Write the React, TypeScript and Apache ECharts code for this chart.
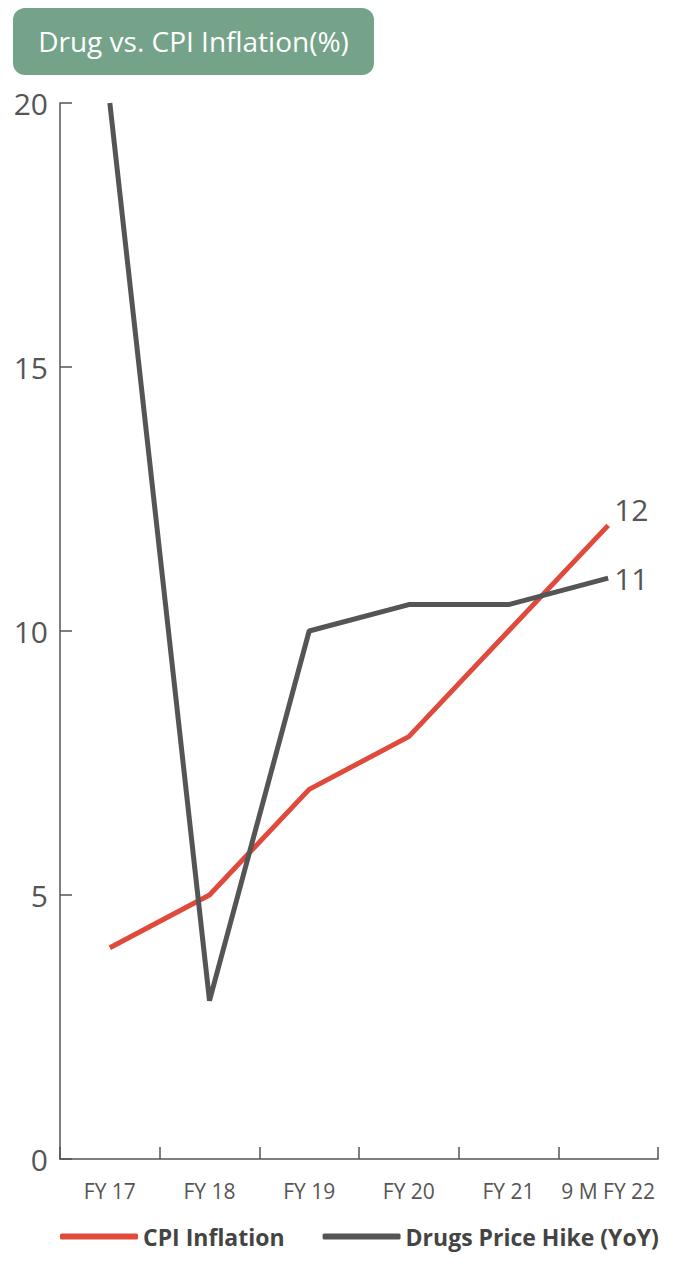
import React, { useEffect, useRef } from "react";
import * as echarts from "echarts";

const categories = ["FY 17", "FY 18", "FY 19", "FY 20", "FY 21", "9 M FY 22"];
const cpiInflation = [4, 5, 7, 8, 10, 12];
const drugsPriceHike = [20, 3, 10, 10.5, 10.5, 11];
const yTicks = { min: 0, max: 20, interval: 5 };

const font = "'Open Sans', sans-serif";

export default function App() {
  const ref = useRef<HTMLDivElement>(null);
  useEffect(() => {
    const chart = echarts.init(ref.current!, undefined, { renderer: "svg" });
    const endLabel = (offset: number[]) => ({
      show: true,
      formatter: (p: any) => String(p.value),
      distance: 6,
      offset,
      fontSize: 30,
      color: "#555",
      fontFamily: font,
    });
    chart.setOption({
      animation: false,
      graphic: [
        {
          type: "group",
          left: 13 - 8,
          top: 8 - 8,
          children: [
            {
              type: "rect",
              shape: { x: 0, y: 0, width: 361, height: 67, r: 12 },
              style: { fill: "#74a38a" },
            },
            {
              type: "text",
              x: 180.5,
              y: 33,
              style: {
                text: "Drug vs. CPI Inflation(%)",
                fill: "#fff",
                fontSize: 28,
                fontFamily: font,
                align: "center",
                verticalAlign: "middle",
              },
            },
          ],
        },
      ],
      legend: {
        bottom: 27,
        left: 55 - 8,
        itemWidth: 78,
        itemHeight: 6,
        itemGap: 38,
        icon: "roundRect",
        textStyle: { fontSize: 23, fontWeight: "bold", color: "#444", fontFamily: font },
        data: ["CPI Inflation", "Drugs Price Hike (YoY)"],
      },
      grid: { left: 60 - 8, right: 697 - 658, top: 103 - 8, bottom: 1280 - 1159 },
      xAxis: {
        type: "category",
        data: categories,
        boundaryGap: true,
        axisLine: { show: true, lineStyle: { color: "#555", width: 1.5 } },
        axisTick: { show: true, inside: true, length: 12, alignWithLabel: false, lineStyle: { color: "#555", width: 1.5 } },
        axisLabel: { fontSize: 21, color: "#555", margin: 21, interval: 0, fontFamily: font },
      },
      yAxis: {
        type: "value",
        min: yTicks.min,
        max: yTicks.max,
        interval: yTicks.interval,
        splitLine: { show: false },
        axisLine: { show: true, lineStyle: { color: "#555", width: 1.5 } },
        axisTick: { show: true, inside: true, length: 12, lineStyle: { color: "#555", width: 1.5 } },
        axisLabel: { fontSize: 30, color: "#555", margin: 12, fontFamily: font },
      },
      series: [
        {
          name: "CPI Inflation",
          type: "line",
          data: cpiInflation,
          symbol: "none",
          lineStyle: { color: "#e04a3c", width: 5 },
          itemStyle: { color: "#e04a3c" },
          endLabel: endLabel([0, -16]),
        },
        {
          name: "Drugs Price Hike (YoY)",
          type: "line",
          data: drugsPriceHike,
          symbol: "none",
          lineStyle: { color: "#555555", width: 5 },
          itemStyle: { color: "#555555" },
          endLabel: endLabel([0, 0]),
        },
      ],
    });
    return () => chart.dispose();
  }, []);
  return <div ref={ref} style={{ width: 689, height: 1272 }} />;
}
